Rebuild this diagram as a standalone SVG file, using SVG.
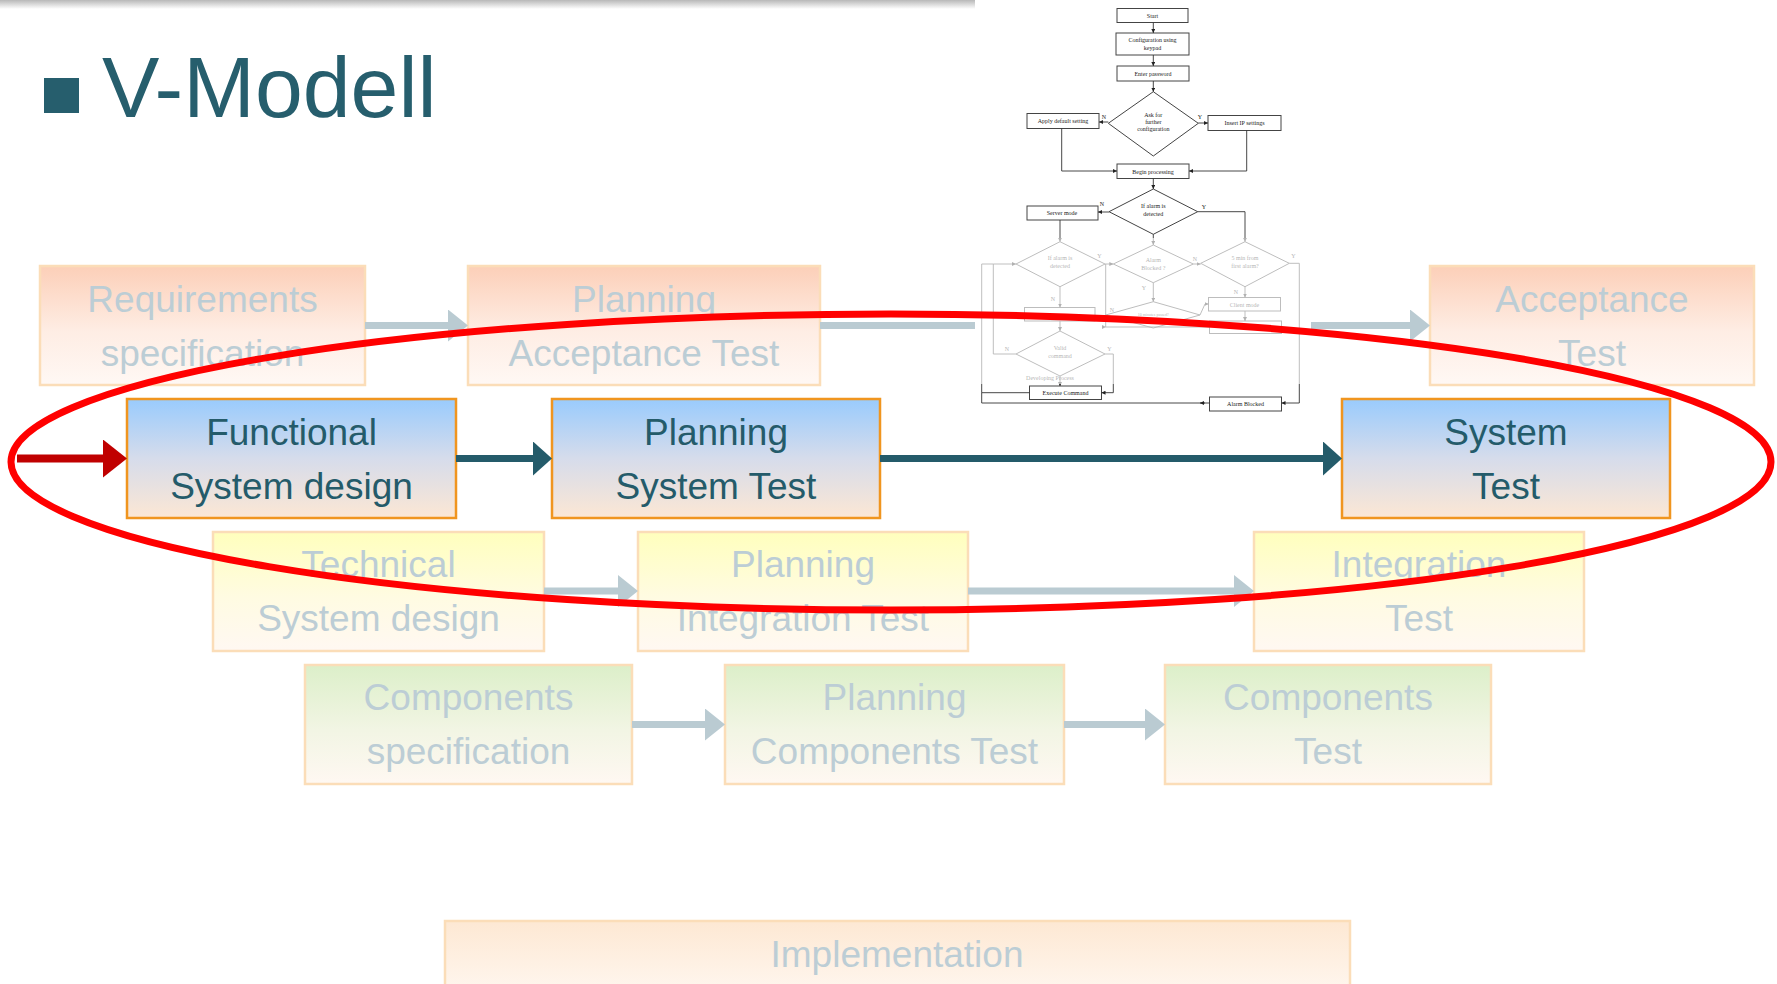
<svg xmlns="http://www.w3.org/2000/svg" width="1777" height="984" viewBox="0 0 1777 984">
<style>
.bt{font-family:"Liberation Sans",Arial,sans-serif;font-size:37px;text-anchor:middle}
.hi text{fill:#245B6A}
.fd text{fill:#BCCDD5}
.hi rect{stroke:#F0951F;stroke-width:2.5}
.fd rect{stroke:#FBDDB8;stroke-width:2.5}
.fc rect{fill:#fff;stroke:#444;stroke-width:1}
.fc path{fill:none;stroke:#333;stroke-width:0.9}
.fc polygon{fill:#fff;stroke:#444;stroke-width:1}
.ft{font-family:"Liberation Serif","Times New Roman",serif;font-size:6px;fill:#222;text-anchor:middle}
.conn line{fill:none}
</style>
<defs>
<linearGradient id="gBlue" x1="0" y1="0" x2="0" y2="1"><stop offset="0" stop-color="#99CBFD"/><stop offset="0.5" stop-color="#D6DCEB"/><stop offset="1" stop-color="#FCE7D4"/></linearGradient>
<linearGradient id="gSalmon" x1="0" y1="0" x2="0" y2="1"><stop offset="0" stop-color="#FCCFB8"/><stop offset="0.55" stop-color="#FEEDE4"/><stop offset="1" stop-color="#FFF8F4"/></linearGradient>
<linearGradient id="gYellow" x1="0" y1="0" x2="0" y2="1"><stop offset="0" stop-color="#FFFFBD"/><stop offset="0.55" stop-color="#FFFBE2"/><stop offset="1" stop-color="#FFF8F2"/></linearGradient>
<linearGradient id="gGreen" x1="0" y1="0" x2="0" y2="1"><stop offset="0" stop-color="#DCEFC9"/><stop offset="0.55" stop-color="#F2F5E4"/><stop offset="1" stop-color="#FFF8F2"/></linearGradient>
<linearGradient id="gImpl" x1="0" y1="0" x2="0" y2="1"><stop offset="0" stop-color="#FDE8D3"/><stop offset="1" stop-color="#FFF8F2"/></linearGradient>
<linearGradient id="gTop" x1="0" y1="0" x2="0" y2="1"><stop offset="0" stop-color="#B8B8B8"/><stop offset="1" stop-color="#FFFFFF"/></linearGradient>
<marker id="mGray" markerUnits="userSpaceOnUse" markerWidth="20" markerHeight="32" viewBox="0 0 20 32" refX="0" refY="16" orient="auto"><path d="M0,0 L20,16 L0,32 Z" fill="#BACBD2"/></marker>
<marker id="mTeal" markerUnits="userSpaceOnUse" markerWidth="19" markerHeight="34" viewBox="0 0 19 34" refX="0" refY="17" orient="auto"><path d="M0,0 L19,17 L0,34 Z" fill="#245B6A"/></marker>
<marker id="mRed" markerUnits="userSpaceOnUse" markerWidth="24" markerHeight="38" viewBox="0 0 24 38" refX="0" refY="19" orient="auto"><path d="M0,0 L24,19 L0,38 Z" fill="#C00000"/></marker>
<marker id="mSm" markerUnits="userSpaceOnUse" markerWidth="4" markerHeight="4" viewBox="0 0 4 4" refX="4" refY="2" orient="auto"><path d="M0,0 L4,2 L0,4 Z" fill="#222"/></marker>
</defs>
<rect width="1777" height="984" fill="#fff"/>
<rect x="0" y="0" width="978" height="9" fill="url(#gTop)"/>

<g id="title">
<rect x="44" y="78" width="35" height="35" fill="#265E6D"/>
<text x="102" y="117" font-family="'Liberation Sans',Arial,sans-serif" font-size="86" fill="#265E6D">V-Modell</text>
</g>

<g id="boxes" class="bt">
<g id="req" class="fd"><rect x="40" y="266" width="325" height="119" fill="url(#gSalmon)"/><text x="202.5" y="312">Requirements</text><text x="202.5" y="366">specification</text></g>
<g id="planAcc" class="fd"><rect x="468" y="266" width="352" height="119" fill="url(#gSalmon)"/><text x="644" y="312">Planning</text><text x="644" y="366">Acceptance Test</text></g>
<g id="acc" class="fd"><rect x="1430" y="266" width="324" height="119" fill="url(#gSalmon)"/><text x="1592" y="312">Acceptance</text><text x="1592" y="366">Test</text></g>
<g id="func" class="hi"><rect x="127" y="399" width="329" height="119" fill="url(#gBlue)"/><text x="291.5" y="445">Functional</text><text x="291.5" y="499">System design</text></g>
<g id="planSys" class="hi"><rect x="552" y="399" width="328" height="119" fill="url(#gBlue)"/><text x="716" y="445">Planning</text><text x="716" y="499">System Test</text></g>
<g id="sysTest" class="hi"><rect x="1342" y="399" width="328" height="119" fill="url(#gBlue)"/><text x="1506" y="445">System</text><text x="1506" y="499">Test</text></g>
<g id="tech" class="fd"><rect x="213" y="532" width="331" height="119" fill="url(#gYellow)"/><text x="378.5" y="577">Technical</text><text x="378.5" y="631">System design</text></g>
<g id="planInt" class="fd"><rect x="638" y="532" width="330" height="119" fill="url(#gYellow)"/><text x="803" y="577">Planning</text><text x="803" y="631">Integration Test</text></g>
<g id="intTest" class="fd"><rect x="1254" y="532" width="330" height="119" fill="url(#gYellow)"/><text x="1419" y="577">Integration</text><text x="1419" y="631">Test</text></g>
<g id="compSpec" class="fd"><rect x="305" y="665" width="327" height="119" fill="url(#gGreen)"/><text x="468.5" y="710">Components</text><text x="468.5" y="764">specification</text></g>
<g id="planComp" class="fd"><rect x="725" y="665" width="339" height="119" fill="url(#gGreen)"/><text x="894.5" y="710">Planning</text><text x="894.5" y="764">Components Test</text></g>
<g id="compTest" class="fd"><rect x="1165" y="665" width="326" height="119" fill="url(#gGreen)"/><text x="1328" y="710">Components</text><text x="1328" y="764">Test</text></g>
<g id="impl" class="fd"><rect x="445" y="921" width="905" height="80" fill="url(#gImpl)"/><text x="897" y="967">Implementation</text></g>
</g>

<g id="connectors" class="conn">
<line x1="365" y1="325.5" x2="448" y2="325.5" stroke="#BACBD2" stroke-width="7" marker-end="url(#mGray)"/>
<line x1="820" y1="325.5" x2="1410" y2="325.5" stroke="#BACBD2" stroke-width="7" marker-end="url(#mGray)"/>
<line x1="17" y1="458.5" x2="103" y2="458.5" stroke="#C00000" stroke-width="8" marker-end="url(#mRed)"/>
<line x1="456" y1="458.5" x2="533" y2="458.5" stroke="#245B6A" stroke-width="7" marker-end="url(#mTeal)"/>
<line x1="880" y1="458.5" x2="1323" y2="458.5" stroke="#245B6A" stroke-width="7" marker-end="url(#mTeal)"/>
<line x1="544" y1="591" x2="618" y2="591" stroke="#BACBD2" stroke-width="7" marker-end="url(#mGray)"/>
<line x1="968" y1="591" x2="1234" y2="591" stroke="#BACBD2" stroke-width="7" marker-end="url(#mGray)"/>
<line x1="632" y1="724.5" x2="705" y2="724.5" stroke="#BACBD2" stroke-width="7" marker-end="url(#mGray)"/>
<line x1="1064" y1="724.5" x2="1145" y2="724.5" stroke="#BACBD2" stroke-width="7" marker-end="url(#mGray)"/>
</g>

<g id="flowchart" class="fc">
<rect x="975" y="0" width="336" height="416" style="fill:#fff;stroke:none"/>
<rect x="1117" y="8.5" width="71" height="14"/>
<rect x="1116" y="33" width="73" height="22"/>
<rect x="1117" y="66" width="72" height="15"/>
<polygon points="1153.3,91.7 1198.3,123.3 1153.3,156 1108.3,123.3"/>
<rect x="1027" y="113.5" width="72" height="15"/>
<rect x="1208" y="115.5" width="73" height="15"/>
<rect x="1117" y="164" width="72" height="14.5"/>
<polygon points="1153.3,189 1197.7,211.7 1153.3,234.3 1109,211.7"/>
<rect x="1027" y="206" width="71" height="14"/>
<polygon points="1060,241.7 1105,264 1060,286.7 1016,264"/>
<polygon points="1153.3,245 1193.3,264 1153.3,282.7 1113.3,264"/>
<polygon points="1245,241.7 1289.3,263.3 1245,286.7 1200.7,263.3"/>
<rect x="1024.5" y="307.5" width="70.5" height="13.5"/>
<polygon points="1153.3,301.7 1200,315 1153.3,328 1105.7,315"/>
<rect x="1208.5" y="297.5" width="72" height="13.5"/>
<rect x="1209.5" y="321" width="72" height="12.5"/>
<polygon points="1060,331 1105,354 1060,376 1016,354"/>
<rect x="1029.5" y="386" width="72" height="13.5"/>
<rect x="1209.5" y="397" width="72" height="14"/>
<path d="M1153.3,22.7 V33" marker-end="url(#mSm)"/>
<path d="M1153.3,55 V66" marker-end="url(#mSm)"/>
<path d="M1153.3,81 V91.7" marker-end="url(#mSm)"/>
<path d="M1108.3,122 H1099" marker-end="url(#mSm)"/>
<path d="M1198.3,123 H1208" marker-end="url(#mSm)"/>
<path d="M1061.7,128.5 V171 H1117" marker-end="url(#mSm)"/>
<path d="M1246.7,130.5 V171 H1189" marker-end="url(#mSm)"/>
<path d="M1153.3,178.5 V189" marker-end="url(#mSm)"/>
<path d="M1109,212 H1098" marker-end="url(#mSm)"/>
<path d="M1197.7,211.7 H1245 V241.7" marker-end="url(#mSm)"/>
<path d="M1060,220 V241.7" marker-end="url(#mSm)"/>
<path d="M1153.3,234.3 V245" marker-end="url(#mSm)"/>
<path d="M1105,264 H1113.3" marker-end="url(#mSm)"/>
<path d="M1193.3,264 H1200.7" marker-end="url(#mSm)"/>
<path d="M1060,286.7 V307.5" marker-end="url(#mSm)"/>
<path d="M1060,321 V331" marker-end="url(#mSm)"/>
<path d="M1153.3,282.7 V301.7" marker-end="url(#mSm)"/>
<path d="M1200,315 L1205,304 H1208.5" marker-end="url(#mSm)"/>
<path d="M1245,286.7 V297.5" marker-end="url(#mSm)"/>
<path d="M1245,311 V321" marker-end="url(#mSm)"/>
<path d="M1209.5,327 H1105.7 V264" />
<path d="M1105.7,327 H1106" marker-end="url(#mSm)"/>
<path d="M1016,354 H993.3 V264 H1016" marker-end="url(#mSm)"/>
<path d="M1105,354 H1113.3 V392.7 H1101.5" marker-end="url(#mSm)"/>
<path d="M1060,376 V386" marker-end="url(#mSm)"/>
<path d="M1029.5,392.7 H981.7 V264 H993.3"/>
<path d="M1289.3,263.3 H1299.3 V403 H1281.5" marker-end="url(#mSm)"/>
<path d="M1209.5,403 H981.7 V392.7"/>
<path d="M1205,403 H1200" marker-end="url(#mSm)"/>
<text class="ft" x="1152.5" y="17.5">Start</text>
<text class="ft" x="1152.5" y="42">Configuration using</text>
<text class="ft" x="1152.5" y="50">keypad</text>
<text class="ft" x="1153" y="75.5">Enter password</text>
<text class="ft" x="1153.3" y="117">Ask for</text>
<text class="ft" x="1153.3" y="124">further</text>
<text class="ft" x="1153.3" y="131">configuration</text>
<text class="ft" x="1063" y="123">Apply default setting</text>
<text class="ft" x="1244.5" y="125">Insert IP settings</text>
<text class="ft" x="1104" y="119">N</text>
<text class="ft" x="1200" y="119">Y</text>
<text class="ft" x="1153" y="173.5">Begin processing</text>
<text class="ft" x="1153.3" y="208">If alarm is</text>
<text class="ft" x="1153.3" y="215.5">detected</text>
<text class="ft" x="1062" y="215">Server mode</text>
<text class="ft" x="1102" y="206">N</text>
<text class="ft" x="1204" y="209">Y</text>
<text class="ft" x="1060" y="260">If alarm is</text>
<text class="ft" x="1060" y="267.5">detected</text>
<text class="ft" x="1099.5" y="258">Y</text>
<text class="ft" x="1153.3" y="262">Alarm</text>
<text class="ft" x="1153.3" y="269.5">Blocked ?</text>
<text class="ft" x="1195" y="261">N</text>
<text class="ft" x="1245" y="260">5 min from</text>
<text class="ft" x="1245" y="267.5">first alarm?</text>
<text class="ft" x="1293.5" y="258">Y</text>
<text class="ft" x="1053" y="301">N</text>
<text class="ft" x="1144" y="290">Y</text>
<text class="ft" x="1112" y="312">N</text>
<text class="ft" x="1153.3" y="316" style="font-size:4px">10 minutes passed?</text>
<text class="ft" x="1236" y="294">N</text>
<text class="ft" x="1244.5" y="306.5">Client mode</text>
<text class="ft" x="1060" y="350">Valid</text>
<text class="ft" x="1060" y="357.5">command</text>
<text class="ft" x="1007" y="351">N</text>
<text class="ft" x="1109.5" y="351">Y</text>
<text class="ft" x="1050" y="380">Developing Process</text>
<text class="ft" x="1065.5" y="395">Execute Command</text>
<text class="ft" x="1245.5" y="406">Alarm Blocked</text>
<rect x="975" y="238" width="336" height="146" style="fill:#fff;fill-opacity:0.65;stroke:none"/>
</g>

<g id="highlight">
<ellipse cx="891" cy="462" rx="880" ry="148" fill="none" stroke="#FF0000" stroke-width="7"/>
</g>
</svg>
